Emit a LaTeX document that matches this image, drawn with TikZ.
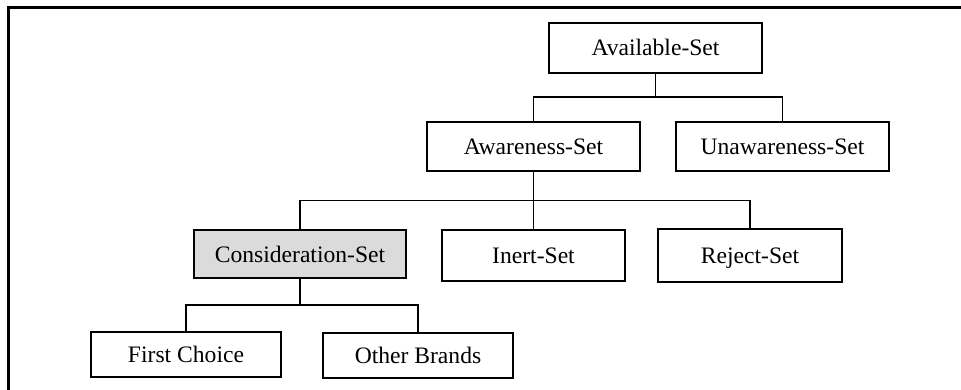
\documentclass[tikz,border=0pt]{standalone}
\usepackage{fontspec}
\setmainfont{Liberation Serif}
\begin{document}
\begin{tikzpicture}[x=1pt,y=-1pt,
  setbox/.style={draw=black, line width=2pt, fill=white, inner sep=0pt,
    text height=18pt, text depth=2pt,
    font=\fontsize{23.6}{28}\selectfont},
  hilite/.style={fill=gray!28},
  link/.style={draw=black, line width=1.4pt}]
\useasboundingbox (0,0) rectangle (961,390);
% frame
\coordinate (fr1) at (961,7.5);
\coordinate (fr2) at (8,7.5);
\coordinate (fr3) at (8,390);
\draw[line width=3pt] (fr1) -- (fr2) -- (fr3);
% nodes
\node[setbox, minimum width=213pt, minimum height=50pt] (avail) at (655.5,48) {Available-Set};
\node[setbox, minimum width=213pt, minimum height=49pt] (aware) at (533.5,146.5) {Awareness-Set};
\node[setbox, minimum width=213pt, minimum height=49pt] (unaware) at (782.5,146.5) {Unawareness-Set};
\node[setbox, hilite, minimum width=212pt, minimum height=48pt] (consid) at (300,254) {Consideration-Set};
\node[setbox, minimum width=183pt, minimum height=51pt] (inert) at (533.5,255.5) {Inert-Set};
\node[setbox, minimum width=184pt, minimum height=53pt] (reject) at (750,255.5) {Reject-Set};
\node[setbox, minimum width=190pt, minimum height=45pt] (first) at (186,354.5) {First Choice};
\node[setbox, minimum width=190pt, minimum height=45pt] (other) at (418,355.5) {Other Brands};
% junctions
\coordinate (j1) at (655.5,97);
\coordinate (j2) at (533.5,200.5);
\coordinate (j3) at (300,305);
% connectors
\draw[link] (avail.south) -- (j1);
\draw[link] (j1) -| (aware.north);
\draw[link] (j1) -| (unaware.north);
\draw[link] (aware.south) -- (j2);
\draw[link] (j2) -| (consid.north);
\draw[link] (j2) -- (inert.north);
\draw[link] (j2) -| (reject.north);
\draw[link] (consid.south) -- (j3);
\draw[link] (j3) -| (first.north);
\draw[link] (j3) -| (other.north);
\end{tikzpicture}
\end{document}
